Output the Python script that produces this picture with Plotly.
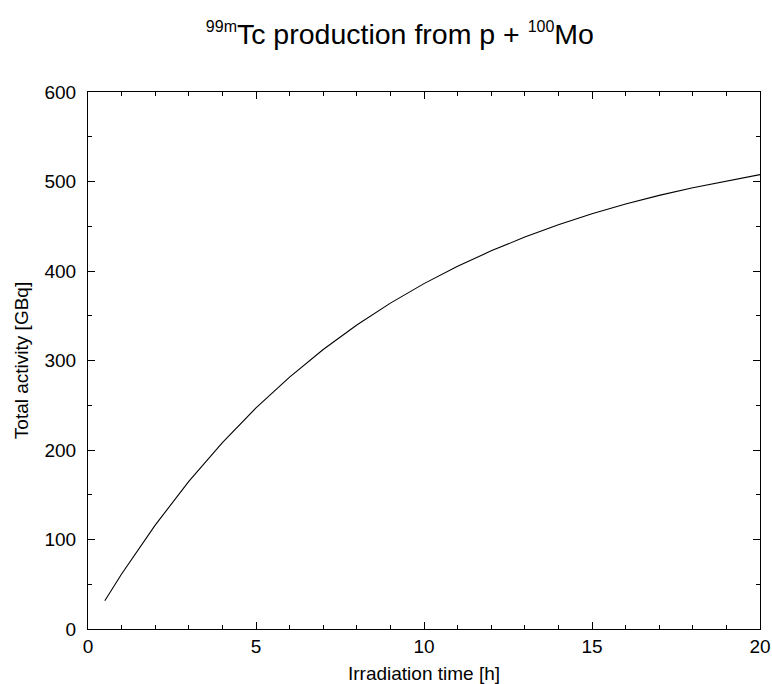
import plotly.graph_objects as go

# irradiation time [h] and total activity [GBq]
IRRADIATION_TIME = [0.5, 1, 2, 3, 4, 5, 6, 7, 8, 9, 10,
                    11, 12, 13, 14, 15, 16, 17, 18, 19, 20]
TOTAL_ACTIVITY = [31.6, 61.4, 116.1, 164.9, 208.3, 247.0, 281.5, 312.3, 339.7, 364.1, 385.9,
                  405.2, 422.5, 437.9, 451.7, 463.9, 474.8, 484.5, 493.1, 500.8, 507.7]

FONT = "Liberation Sans, Arial, Helvetica, sans-serif"
TITLE = ("<sup><span style='font-size:16px'>99m</span></sup>Tc production from p + "
         "<sup><span style='font-size:16px'>100</span></sup>Mo")


def main():
    fig = go.Figure()
    fig.add_trace(go.Scatter(
        x=IRRADIATION_TIME,
        y=TOTAL_ACTIVITY,
        mode="lines",
        line=dict(color="black", width=1.1),
        showlegend=False,
    ))

    axis = dict(
        showgrid=False,
        zeroline=False,
        showline=True,
        linecolor="black",
        linewidth=1,
        mirror="ticks",
        ticks="inside",
        ticklen=7,
        tickcolor="black",
        tickfont=dict(size=19, color="black"),
        automargin=False,
    )

    fig.update_xaxes(
        **axis,
        range=[0, 20],
        dtick=5,
        ticklabelstandoff=0,
        minor=dict(dtick=1, ticks="inside", ticklen=4, tickcolor="black"),
        title=dict(text="Irradiation time [h]", font=dict(size=19, color="black"), standoff=18),
    )
    fig.update_yaxes(
        **axis,
        range=[0, 600],
        dtick=100,
        ticklabelstandoff=7,
        minor=dict(dtick=50, ticks="inside", ticklen=4, tickcolor="black"),
        title=dict(text="Total activity [GBq]", font=dict(size=19, color="black"), standoff=10),
    )

    fig.update_layout(
        width=772,
        height=684,
        margin=dict(l=88, r=12, t=92, b=55),
        paper_bgcolor="white",
        plot_bgcolor="white",
        font=dict(family=FONT, color="black"),
        title=dict(
            text=TITLE,
            font=dict(size=28.5, color="black"),
            xref="container",
            x=0.518,
            xanchor="center",
            yref="container",
            y=0.950,
            yanchor="middle",
        ),
    )

    # drop the page's default body margin so the figure fills the window
    fig.write_html(
        "out.html",
        config={"displayModeBar": False},
        post_script="document.body.style.margin = '0';",
    )


if __name__ == "__main__":
    main()
